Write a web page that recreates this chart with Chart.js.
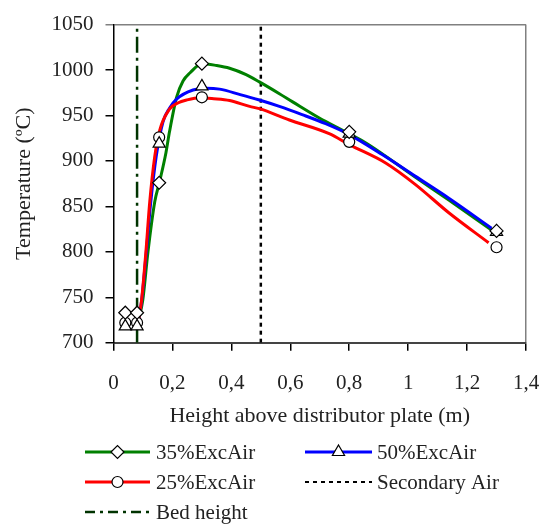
<!DOCTYPE html>
<html>
<head>
<meta charset="utf-8">
<script src="https://cdn.jsdelivr.net/npm/chart.js@4.4.0/dist/chart.umd.min.js"></script>
<style>
  html, body { margin: 0; padding: 0; background: #fff; }
  #wrap { width: 542px; height: 524px; }
</style>
</head>
<body>
<div id="wrap"><canvas id="chart" width="542" height="524"></canvas></div>
<script>
// Model profiles (lines)
const x35 = [0.085, 0.099, 0.117, 0.14, 0.157, 0.178, 0.19, 0.214, 0.236, 0.26, 0.30, 0.35, 0.394, 0.45, 0.495, 0.563, 0.608, 0.70, 0.776, 0.85, 0.92, 1.025, 1.138, 1.283];
const t35 = [725, 746, 800, 855, 878, 909, 932, 970, 988, 997, 1007, 1005, 1002, 995, 987, 974, 965, 947, 934, 921, 906, 882, 857, 824];

const x50 = [0.085, 0.095, 0.11, 0.125, 0.145, 0.168, 0.19, 0.214, 0.27, 0.315, 0.36, 0.43, 0.495, 0.563, 0.64, 0.72, 0.794, 0.912, 1.025, 1.138, 1.283];
const t50 = [725, 745, 795, 850, 905, 943, 958, 968, 978, 980, 979, 973, 967, 960, 951, 941, 930, 907, 883, 859, 826];

const x25 = [0.085, 0.095, 0.11, 0.123, 0.14, 0.157, 0.19, 0.22, 0.248, 0.293, 0.34, 0.394, 0.462, 0.495, 0.597, 0.732, 0.8, 0.925, 1.025, 1.138, 1.273];
const t25 = [725, 746, 800, 855, 905, 934, 957, 964, 967, 969.5, 968.5, 966.5, 960, 957.5, 945, 930, 918, 897.5, 874, 843, 810];

// Measured points (markers)
const xMeas = [0.04, 0.08, 0.155, 0.30, 0.80, 1.30];
const m35 = [733, 733, 876, 1007, 932, 823];
const m50 = [718, 718, 919, 982, 930, 822];
const m25 = [722, 722, 926, 970, 921, 805];

// Reference lines
const bedHeight = 0.08;
const secondaryAir = 0.5;

const xTicks = ['0', '0,2', '0,4', '0,6', '0,8', '1', '1,2', '1,4'];

const FONT = '"Liberation Serif", "Times New Roman", serif';
const GREEN = '#008000';
const BLUE = '#0000ff';
const RED = '#ff0000';
const BEDCOL = '#003300';

const pts = (xs, ys) => xs.map((x, i) => ({x: x, y: ys[i]}));

function curve(label, xs, ys, color, order) {
  return {
    label: label,
    data: pts(xs, ys),
    borderColor: color,
    borderWidth: 3,
    pointRadius: 0,
    cubicInterpolationMode: 'monotone',
    fill: false,
    order: order
  };
}

function markers(label, ys, style, radius) {
  return {
    label: label,
    type: 'scatter',
    data: pts(xMeas, ys),
    pointStyle: style,
    pointRadius: radius,
    pointBackgroundColor: '#fff',
    pointBorderColor: '#000',
    pointBorderWidth: 1.2,
    showLine: false,
    order: 0
  };
}

// Legend drawn below the plot in two columns
const legendItems = [
  {text: '35%ExcAir', col: 0, row: 0, color: GREEN, width: 3, dash: [], point: 'rectRot', r: 6.5},
  {text: '50%ExcAir', col: 1, row: 0, color: BLUE, width: 3, dash: [], point: 'triangle', r: 7},
  {text: '25%ExcAir', col: 0, row: 1, color: RED, width: 3, dash: [], point: 'circle', r: 5.5},
  {text: 'Secondary Air', col: 1, row: 1, color: '#000', width: 2, dash: [4, 4], point: null},
  {text: 'Bed height', col: 0, row: 2, color: BEDCOL, width: 2.5, dash: [10, 5, 3, 5], point: null}
];

const legendPlugin = {
  id: 'bottomLegend',
  afterDraw(chart) {
    const ctx = chart.ctx;
    const colX = [[85, 150, 156], [305, 372, 377]];
    const rowY = [452, 482, 512];
    ctx.save();
    ctx.font = '21px ' + FONT;
    ctx.textBaseline = 'middle';
    legendItems.forEach(it => {
      const c = colX[it.col];
      const y = rowY[it.row];
      ctx.beginPath();
      ctx.setLineDash(it.dash);
      ctx.strokeStyle = it.color;
      ctx.lineWidth = it.width;
      ctx.moveTo(c[0], y);
      ctx.lineTo(c[1], y);
      ctx.stroke();
      ctx.setLineDash([]);
      if (it.point) {
        ctx.fillStyle = '#fff';
        ctx.strokeStyle = '#000';
        ctx.lineWidth = 1.2;
        Chart.helpers.drawPoint(ctx, {pointStyle: it.point, radius: it.r, rotation: 0, borderWidth: 1.2}, (c[0] + c[1]) / 2, y);
      }
      ctx.fillStyle = '#222';
      ctx.fillText(it.text, c[2], y + 1);
    });
    ctx.restore();
  }
};

const ctx = document.getElementById('chart').getContext('2d');
new Chart(ctx, {
  type: 'line',
  data: {
    datasets: [
      markers('35%ExcAir', m35, 'rectRot', 6.5),
      markers('50%ExcAir', m50, 'triangle', 7),
      markers('25%ExcAir', m25, 'circle', 5.5),
      curve('25%ExcAir model', x25, t25, RED, 1),
      curve('50%ExcAir model', x50, t50, BLUE, 2),
      curve('35%ExcAir model', x35, t35, GREEN, 3),
      {
        label: 'Secondary Air',
        data: [{x: secondaryAir, y: 700}, {x: secondaryAir, y: 1050}],
        borderColor: '#000',
        borderWidth: 2.5,
        borderDash: [4, 4],
        pointRadius: 0,
        order: 4
      },
      {
        label: 'Bed height',
        data: [{x: bedHeight, y: 700}, {x: bedHeight, y: 1050}],
        borderColor: BEDCOL,
        borderWidth: 2.5,
        borderDash: [16, 5, 3, 5],
        pointRadius: 0,
        order: 5
      }
    ]
  },
  options: {
    responsive: false,
    animation: false,
    layout: {padding: {left: 0, top: 22, right: 16, bottom: 94}},
    plugins: {
      legend: {display: false},
      tooltip: {enabled: false}
    },
    scales: {
      x: {
        type: 'linear',
        min: 0,
        max: 1.4,
        ticks: {
          stepSize: 0.2,
          padding: 20,
          color: '#222',
          font: {family: FONT, size: 21},
          callback: (v) => xTicks[Math.round(v / 0.2)]
        },
        grid: {
          color: c => (c.tick && Math.abs(c.tick.value - 1.4) < 1e-6) ? '#808080' : 'rgba(0,0,0,0)',
          tickColor: '#000',
          tickLength: 8,
          lineWidth: 1.5
        },
        border: {color: '#444', width: 2},
        title: {
          display: true,
          text: 'Height above distributor plate (m)',
          color: '#222',
          font: {family: FONT, size: 22},
          padding: {top: 0, bottom: 1}
        },
        afterFit: s => { s.height = 87.3; s.paddingRight = 0; s.paddingLeft = 0; }
      },
      y: {
        min: 700,
        max: 1050,
        ticks: {
          stepSize: 50,
          padding: 12,
          color: '#222',
          font: {family: FONT, size: 21},
          callback: (v) => String(v)
        },
        grid: {
          color: c => (c.tick && c.tick.value === 1050) ? '#808080' : 'rgba(0,0,0,0)',
          tickColor: c => (c.tick && c.tick.value === 1050) ? '#808080' : '#000',
          tickLength: 8,
          lineWidth: 1.5
        },
        border: {color: '#000', width: 1.5},
        title: {
          display: true,
          text: 'Temperature (ºC)',
          color: '#222',
          font: {family: FONT, size: 22},
          padding: {top: 11, bottom: 0}
        },
        afterFit: s => { s.width = 113.5; }
      }
    }
  },
  plugins: [legendPlugin]
});
</script>
</body>
</html>
